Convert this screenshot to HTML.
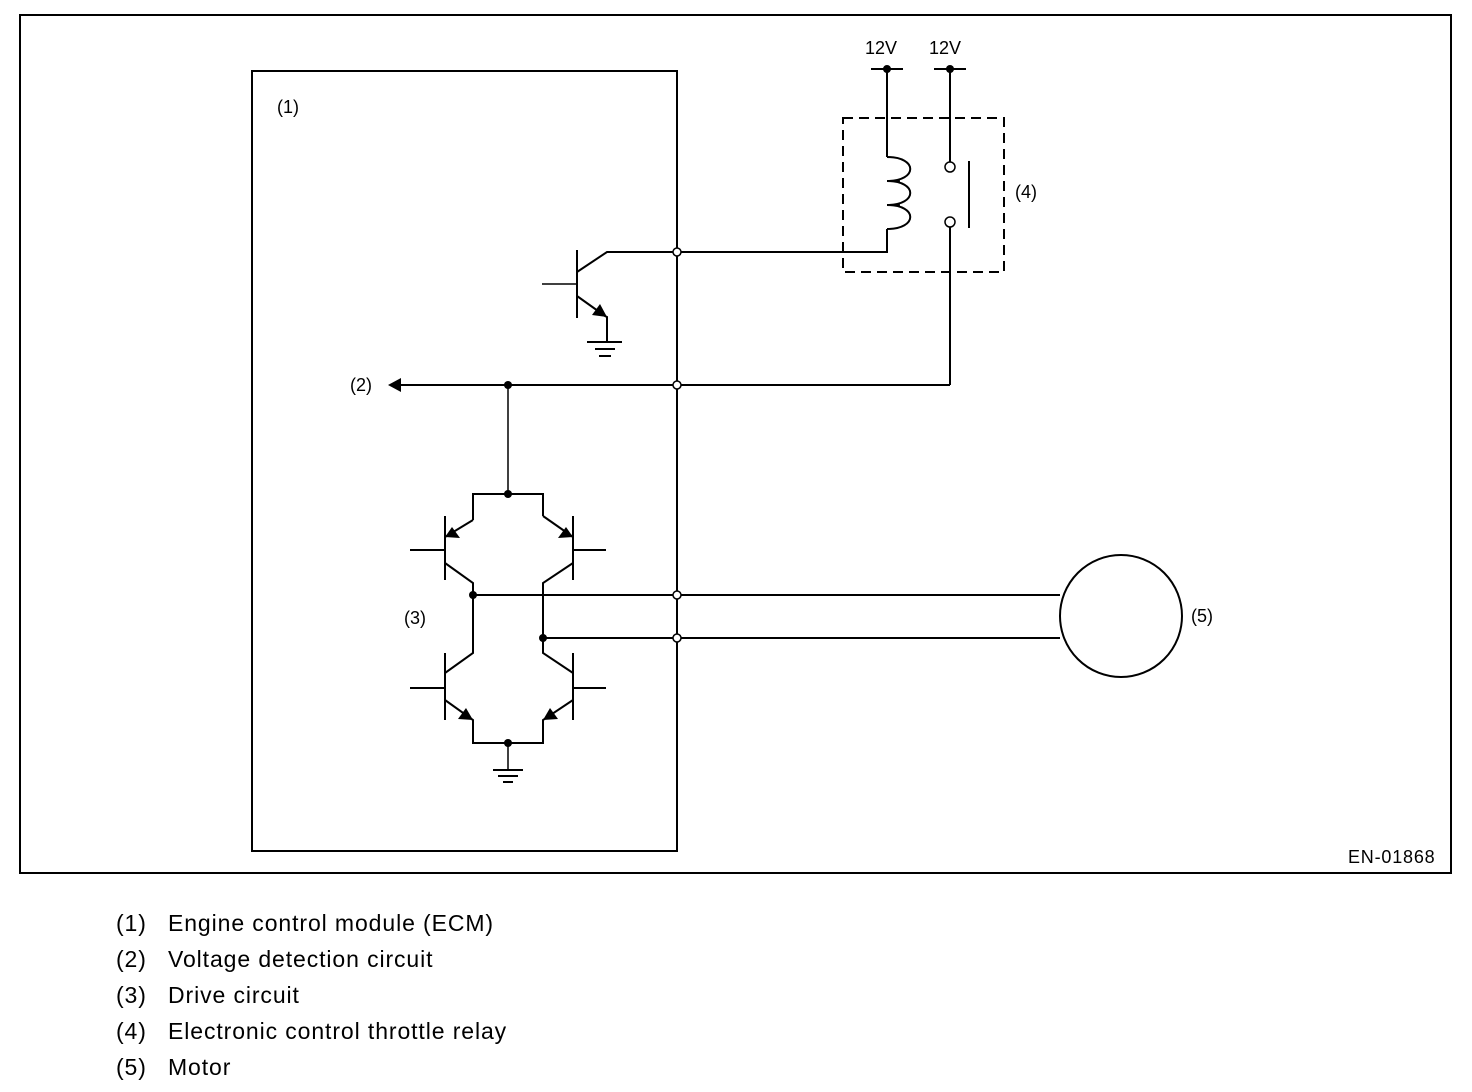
<!DOCTYPE html>
<html><head><meta charset="utf-8"><style>
html,body{margin:0;padding:0;background:#fff;}
body{width:1472px;height:1092px;position:relative;overflow:hidden;font-family:"Liberation Sans",sans-serif;}
svg{position:absolute;left:0;top:0;}
.leg{position:absolute;left:116px;font-size:23px;color:#000;line-height:22px;letter-spacing:0.9px;}
.leg span{position:absolute;left:52px;white-space:nowrap;}
</style></head><body>
<svg width="1472" height="1092" viewBox="0 0 1472 1092" font-family="Liberation Sans, sans-serif" font-size="18">
<g fill="none" stroke="#000" stroke-width="2">
<rect x="20" y="15" width="1431" height="858"/>
<rect x="252" y="71" width="425" height="780"/>
<line x1="677" y1="71" x2="677" y2="851" stroke-width="1.5"/>
<line x1="871" y1="69" x2="903" y2="69"/><line x1="934" y1="69" x2="966" y2="69"/>
<polyline points="887,69 887,157"/>
<path d="M887,157 C918,157 918,181 887,181 C918,181 918,205 887,205 C918,205 918,229 887,229"/>
<polyline points="887,181 900,181" stroke-width="1.5"/><polyline points="887,205 900,205" stroke-width="1.5"/>
<polyline points="887,229 887,252 677,252"/>
<line x1="950" y1="69" x2="950" y2="163"/>
<line x1="950" y1="226" x2="950" y2="385"/>
<line x1="969" y1="161" x2="969" y2="228"/>
<rect x="843" y="118" width="161" height="154" stroke-dasharray="10,6"/>
<line x1="577" y1="250" x2="577" y2="318"/>
<line x1="542" y1="284" x2="577" y2="284" stroke-width="1.5"/>
<polyline points="577,272 607,252 677,252"/>
<polyline points="577,296 605,316 607,317 607,342"/>
<line x1="587" y1="342" x2="622" y2="342"/><line x1="595" y1="349" x2="615" y2="349"/><line x1="599" y1="356" x2="611" y2="356"/>
<polyline points="398,385 950,385"/>
<line x1="508" y1="385" x2="508" y2="494" stroke-width="1.5"/>
<polyline points="473,520 473,494 543,494 543,516"/>
<line x1="445" y1="516" x2="445" y2="580"/><line x1="573" y1="516" x2="573" y2="580"/>
<line x1="410" y1="550" x2="445" y2="550"/><line x1="573" y1="550" x2="606" y2="550"/>
<polyline points="473,520 445,537"/><polyline points="543,516 573,537"/>
<polyline points="445,563 473,583 473,653 445,673"/>
<polyline points="573,563 543,583 543,653 573,673"/>
<line x1="445" y1="653" x2="445" y2="720"/><line x1="573" y1="653" x2="573" y2="720"/>
<line x1="410" y1="688" x2="445" y2="688"/><line x1="573" y1="688" x2="606" y2="688"/>
<polyline points="445,700 473,720 473,743 543,743 543,720 573,700"/>
<line x1="508" y1="743" x2="508" y2="770" stroke-width="1.5"/>
<line x1="493" y1="770" x2="523" y2="770"/><line x1="498" y1="776" x2="518" y2="776"/><line x1="503" y1="782" x2="513" y2="782"/>
<line x1="473" y1="595" x2="1060" y2="595"/>
<line x1="543" y1="638" x2="1060" y2="638"/>
<circle cx="1121" cy="616" r="61"/>
</g>
<g fill="#000">
<polygon points="388,385 401,378 401,392"/>
<polygon points="607,317 592,315 600,304"/>
<polygon points="445,537 460,538 452,527"/>
<polygon points="573,537 558,538 566,527"/>
<polygon points="473,720 458,719 466,708"/>
<polygon points="543,720 558,719 550,708"/>
<circle cx="887" cy="69" r="4"/><circle cx="950" cy="69" r="4"/>
<circle cx="508" cy="385" r="4"/><circle cx="508" cy="494" r="4"/><circle cx="508" cy="743" r="4"/>
<circle cx="473" cy="595" r="4"/><circle cx="543" cy="638" r="4"/>
</g>
<g fill="#fff" stroke="#000" stroke-width="1.5">
<circle cx="677" cy="252" r="4"/><circle cx="677" cy="385" r="4"/>
<circle cx="677" cy="595" r="4"/><circle cx="677" cy="638" r="4"/>
<circle cx="950" cy="167" r="5"/><circle cx="950" cy="222" r="5"/>
</g>
<g fill="#000">
<text x="865" y="54">12V</text><text x="929" y="54">12V</text>
<text x="277" y="113">(1)</text>
<text x="350" y="391">(2)</text>
<text x="404" y="624">(3)</text>
<text x="1015" y="198">(4)</text>
<text x="1191" y="622">(5)</text>
<text x="1348" y="863" letter-spacing="0.8">EN-01868</text>
</g>
</svg>
<div class="leg" style="top:912px">(1)<span>Engine control module (ECM)</span></div>
<div class="leg" style="top:948px">(2)<span>Voltage detection circuit</span></div>
<div class="leg" style="top:984px">(3)<span>Drive circuit</span></div>
<div class="leg" style="top:1020px">(4)<span>Electronic control throttle relay</span></div>
<div class="leg" style="top:1056px">(5)<span>Motor</span></div>
</body></html>
